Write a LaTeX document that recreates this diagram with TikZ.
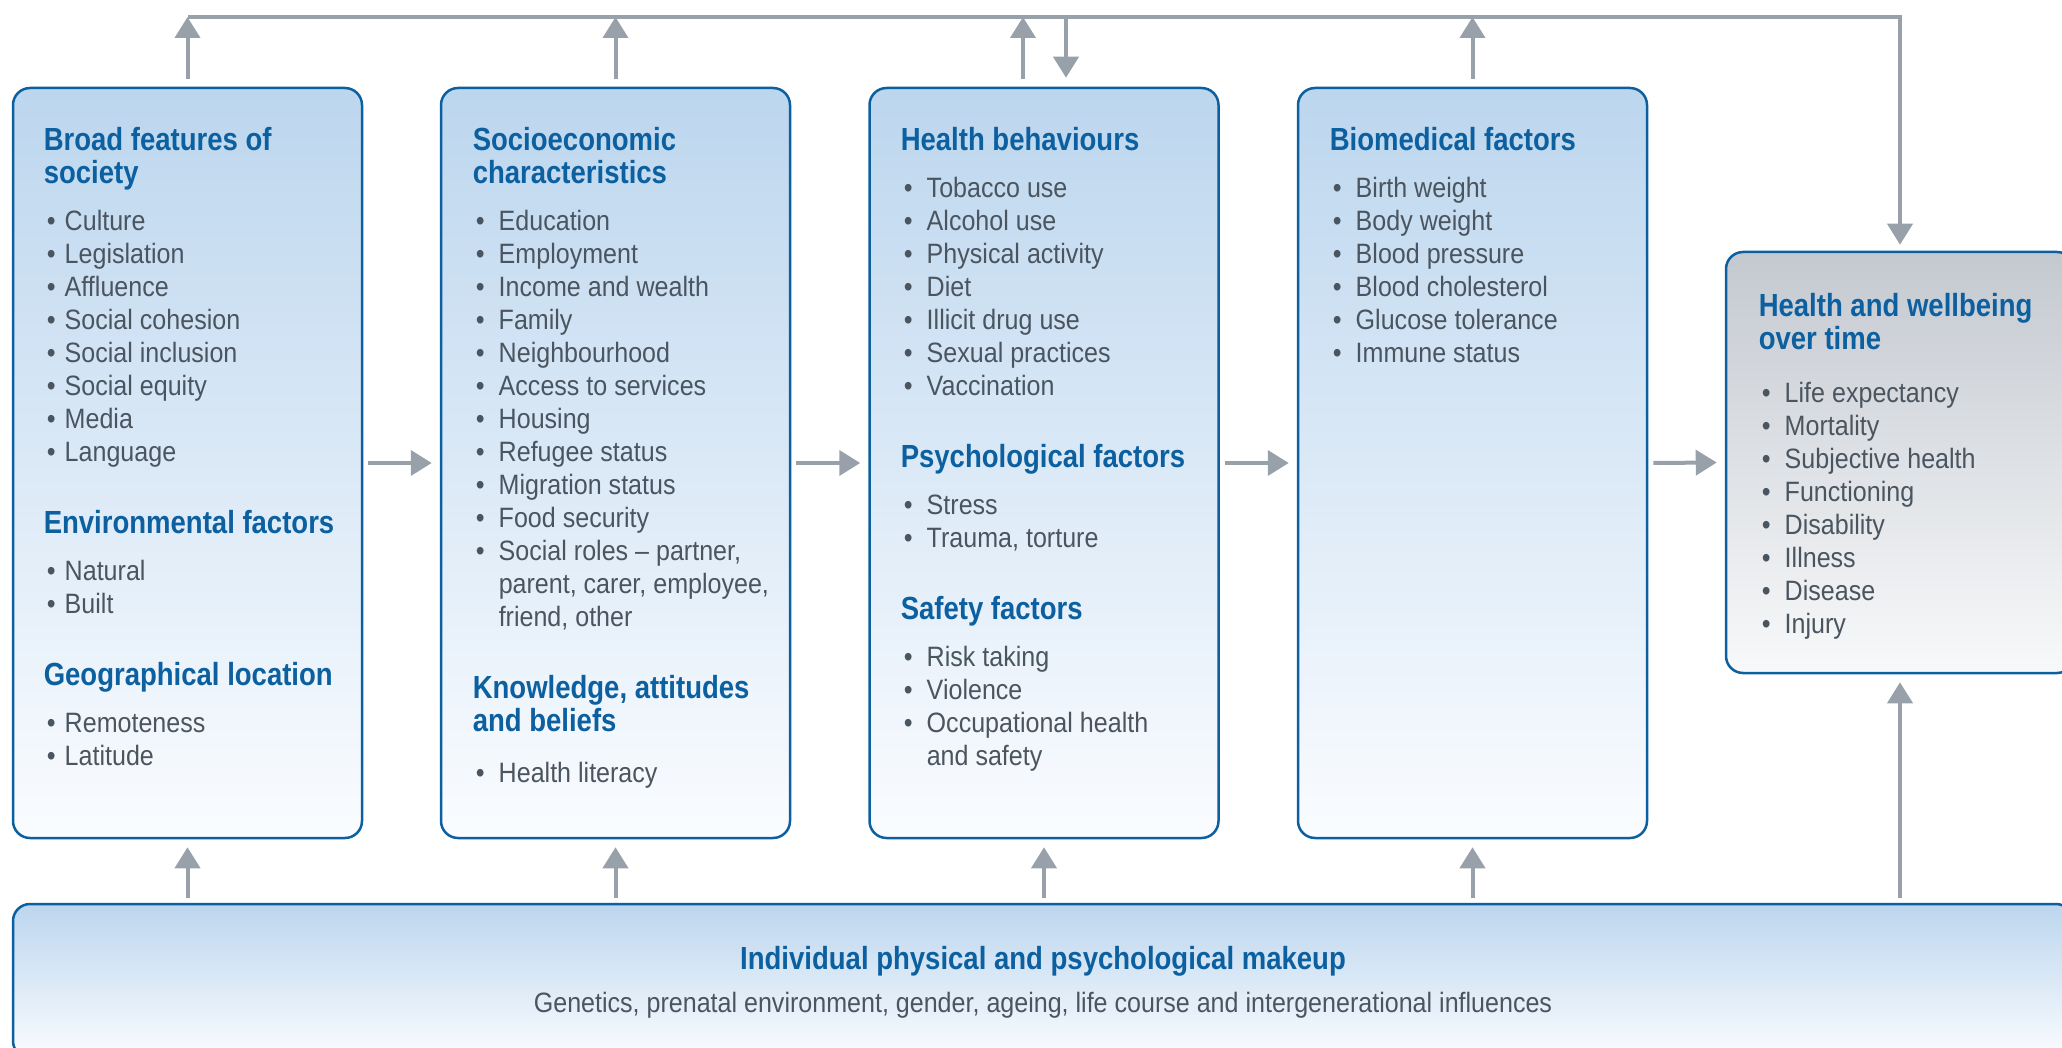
\documentclass[tikz,border=0pt]{standalone}
\usepackage{fontspec}
\setmainfont{Liberation Sans}[FakeStretch=0.895, BoldFeatures={FakeStretch=0.86}]
\usetikzlibrary{arrows.meta}

\definecolor{boxblue}{RGB}{12,96,160}
\definecolor{textgrey}{RGB}{74,85,96}
\definecolor{flowgrey}{RGB}{152,161,170}
\definecolor{filltop}{RGB}{188,214,238}
\definecolor{fillbot}{RGB}{250,252,255}
\definecolor{greytop}{RGB}{196,201,208}
\definecolor{greybot}{RGB}{248,249,250}

\newlength{\itmind}
\setlength{\itmind}{13pt}
\newcommand{\hd}[1]{{\color{boxblue}\fontsize{16}{16.5}\selectfont\bfseries #1}}
\newcommand{\itm}[1]{\makebox[\itmind][l]{\hspace{1.5pt}\textbullet}#1}
\newcommand{\cont}[1]{\hspace*{\itmind}#1}
\newcommand{\boxlines}[1]{\parbox[t]{200pt}{\raggedright\fontsize{14}{16.5}\selectfont\leavevmode #1}}

\tikzset{every picture/.style={line width=0.75pt}}
\tikzset{
  factorbox/.style={draw=boxblue, line width=1.25pt, rounded corners=8.5pt, top color=filltop, bottom color=fillbot, inner sep=0pt, minimum width=174.5pt, minimum height=375pt},
  outcomebox/.style={factorbox, top color=greytop, bottom color=greybot, minimum width=174pt, minimum height=210.5pt},
  makeupbox/.style={factorbox, minimum width=1030pt, minimum height=77pt},
  boxtext/.style={anchor=base west, inner sep=0pt, text=textgrey},
  flow/.style={draw=flowgrey, line width=2pt, -{Triangle[width=12.5pt,length=10.5pt]}},
}

\begin{document}
\begin{tikzpicture}[x=0.5pt,y=0.5pt,yscale=-1,xscale=1]
\useasboundingbox (0,0) rectangle (2062,1048);

%Boxes
\node [factorbox] (b1) at (187.5,463) {};
\node [factorbox] (b2) at (615.5,463) {};
\node [factorbox] (b3) at (1044,463) {};
\node [factorbox] (b4) at (1472.5,463) {};
\node [outcomebox] (hw) at (1900,462.5) {};
\node [makeupbox] (mk) at (1043,981) {};

%Box texts
\node [boxtext] (t1) at (43,151) {\setlength{\itmind}{10.5pt}\boxlines{%
\hd{Broad features of\\society}\\[7pt]
\itm{Culture}\\ \itm{Legislation}\\ \itm{Affluence}\\ \itm{Social cohesion}\\
\itm{Social inclusion}\\ \itm{Social equity}\\ \itm{Media}\\ \itm{Language}\\[19.5pt]
\hd{Environmental factors}\\[7pt]
\itm{Natural}\\ \itm{Built}\\[19.5pt]
\hd{Geographical location}\\[7pt]
\itm{Remoteness}\\ \itm{Latitude}}};

\node [boxtext] (t2) at (472,151) {\boxlines{%
\hd{Socioeconomic\\characteristics}\\[7pt]
\itm{Education}\\ \itm{Employment}\\ \itm{Income and wealth}\\ \itm{Family}\\
\itm{Neighbourhood}\\ \itm{Access to services}\\ \itm{Housing}\\ \itm{Refugee status}\\
\itm{Migration status}\\ \itm{Food security}\\ \itm{Social roles – partner,}\\
\cont{parent, carer, employee,}\\ \cont{friend, other}\\[19.5pt]
\hd{Knowledge, attitudes\\and beliefs}\\[9pt]
\itm{Health literacy}}};

\node [boxtext] (t3) at (900,151) {\boxlines{%
\hd{Health behaviours}\\[7pt]
\itm{Tobacco use}\\ \itm{Alcohol use}\\ \itm{Physical activity}\\ \itm{Diet}\\
\itm{Illicit drug use}\\ \itm{Sexual practices}\\ \itm{Vaccination}\\[19.5pt]
\hd{Psychological factors}\\[7pt]
\itm{Stress}\\ \itm{Trauma, torture}\\[19.5pt]
\hd{Safety factors}\\[7pt]
\itm{Risk taking}\\ \itm{Violence}\\ \itm{Occupational health}\\ \cont{and safety}}};

\node [boxtext] (t4) at (1329,151) {\boxlines{%
\hd{Biomedical factors}\\[7pt]
\itm{Birth weight}\\ \itm{Body weight}\\ \itm{Blood pressure}\\
\itm{Blood cholesterol}\\ \itm{Glucose tolerance}\\ \itm{Immune status}}};

\node [boxtext] (t5) at (1758,317) {\boxlines{%
\hd{Health and wellbeing\\over time}\\[10pt]
\itm{Life expectancy}\\ \itm{Mortality}\\ \itm{Subjective health}\\ \itm{Functioning}\\
\itm{Disability}\\ \itm{Illness}\\ \itm{Disease}\\ \itm{Injury}}};

\node [anchor=base, inner sep=0pt] (mkt) at (1043,969) {\hd{Individual physical and psychological makeup}};
\node [anchor=base, inner sep=0pt, text=textgrey, font=\fontsize{14}{16.5}\selectfont] (mks) at (1043,1012) {Genetics, prenatal environment, gender, ageing, life course and intergenerational influences};

%Feedback line along the top (yshift is flipped by yscale=-1)
\coordinate (tl) at (188,17);
\coordinate (tr) at (1900,17);
\coordinate (up3) at ([xshift=-10.5pt]b3.north);
\coordinate (dn3) at ([xshift=11pt]b3.north);
\draw [flow] (tl) -- (tr) -- ([yshift=-3pt]hw.north);
\draw [flow] ([yshift=-4pt]b1.north) -- (b1.north |- tl);
\draw [flow] ([yshift=-4pt]b2.north) -- (b2.north |- tl);
\draw [flow] ([yshift=-4pt]up3) -- (up3 |- tl);
\draw [flow] ([yshift=-4pt]b4.north) -- (b4.north |- tl);
\draw [flow] (dn3 |- tl) -- ([yshift=-4.5pt]dn3);

%Arrows between the boxes
\draw [flow] ([xshift=2.5pt]b1.east) -- ([xshift=-4pt]b2.west);
\draw [flow] ([xshift=2.5pt]b2.east) -- ([xshift=-4pt]b3.west);
\draw [flow] ([xshift=2.5pt]b3.east) -- ([xshift=-4pt]b4.west);
\draw [flow] ([xshift=2.5pt]b4.east) -- ([xshift=-4pt]hw.west);

%Arrows up from the makeup box
\draw [flow] ([yshift=-2.5pt]b1.south |- mk.north) -- ([yshift=4pt]b1.south);
\draw [flow] ([yshift=-2.5pt]b2.south |- mk.north) -- ([yshift=4pt]b2.south);
\draw [flow] ([yshift=-2.5pt]b3.south |- mk.north) -- ([yshift=4pt]b3.south);
\draw [flow] ([yshift=-2.5pt]b4.south |- mk.north) -- ([yshift=4pt]b4.south);
\draw [flow] ([yshift=-2.5pt]hw.south |- mk.north) -- ([yshift=4pt]hw.south);

\end{tikzpicture}
\end{document}
